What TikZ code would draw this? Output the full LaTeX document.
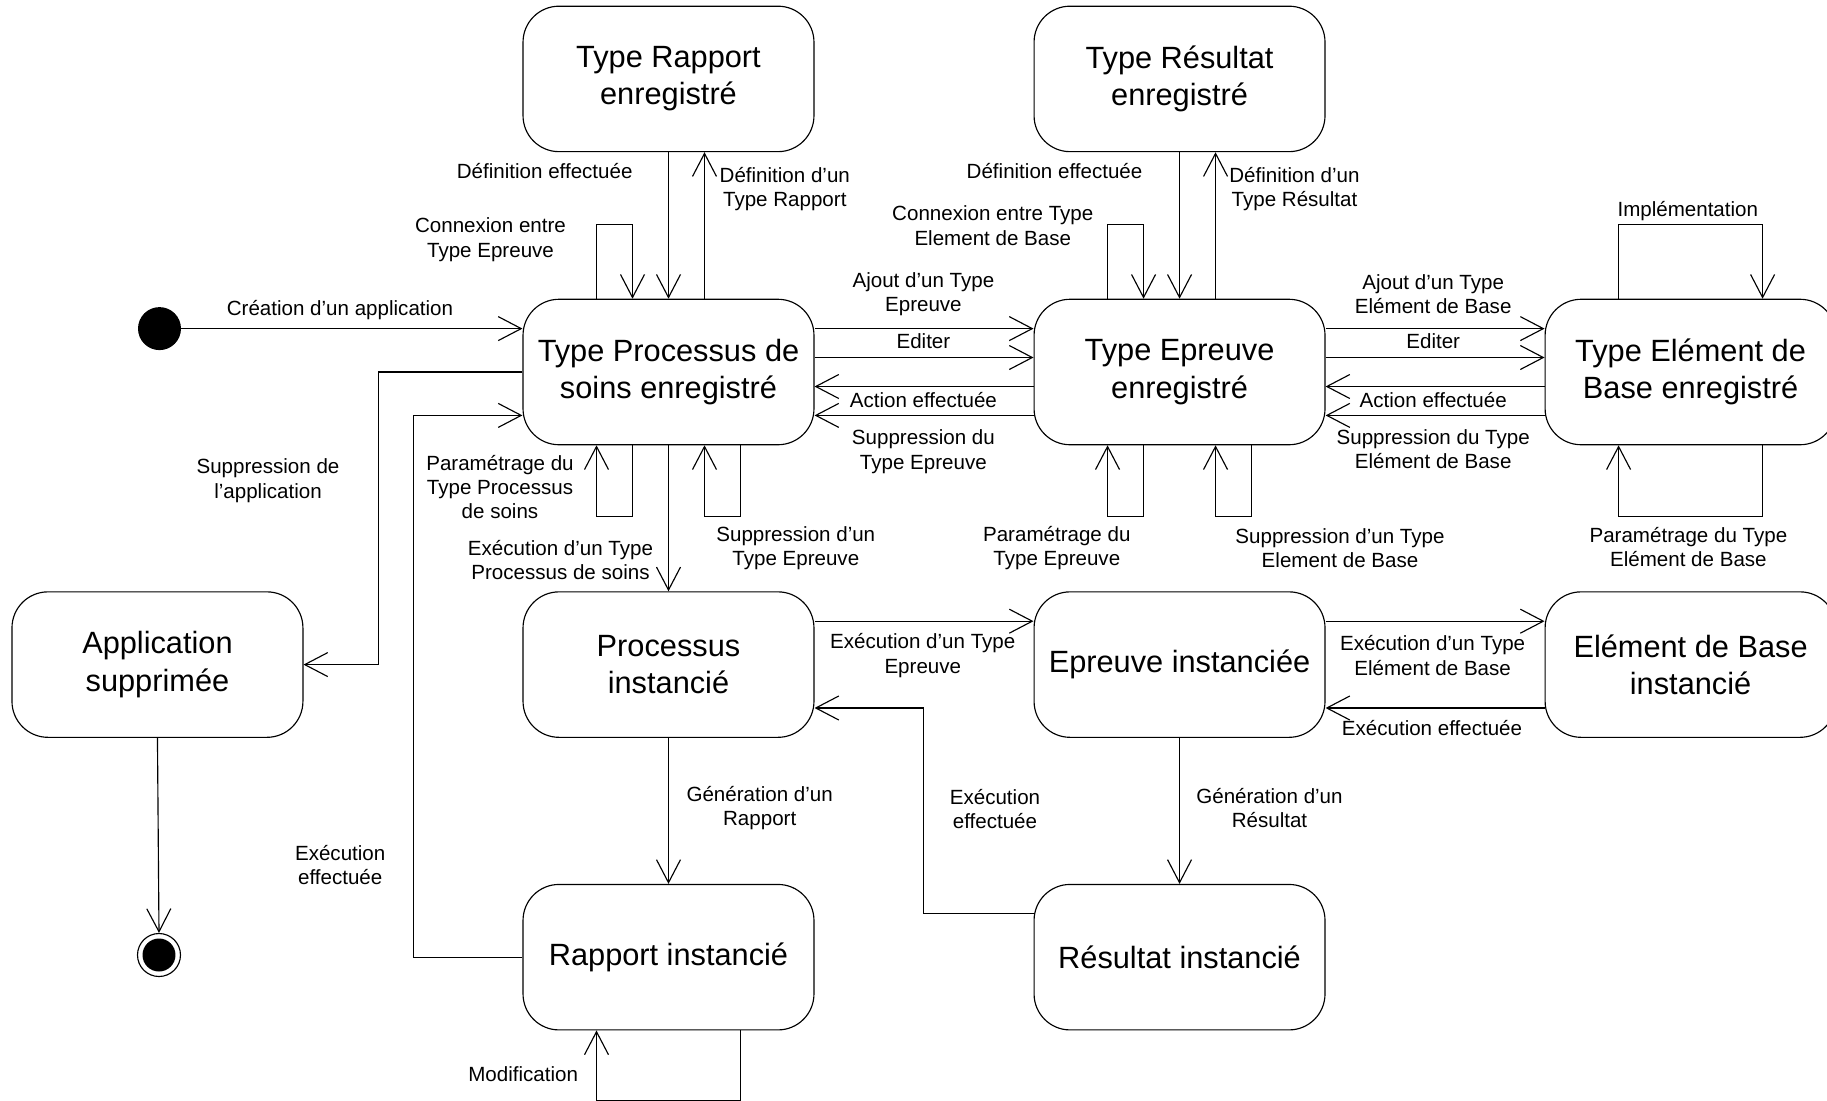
\documentclass[tikz,border=0pt]{standalone}
\usepackage{fontspec}
\setmainfont{Liberation Sans}
\usetikzlibrary{arrows.meta,positioning,calc}

\begin{document}
\begin{tikzpicture}[x=0.02cm,y=-0.02cm,
  state/.style={draw,line width=0.65pt,rounded corners=0.72cm,
    minimum width=5.82cm,minimum height=2.91cm,align=center,
    font=\fontsize{17.5}{21.2}\selectfont},
  lbl/.style={align=center,inner sep=0pt,font=\fontsize{11.7}{13.9}\selectfont},
  arr/.style={-{Straight Barb[length=0.46cm,width=0.48cm]},line width=0.65pt}
]
\useasboundingbox (0,0) rectangle (1827,1100);

\node[state] (tproc) at (668.5,372) {Type Processus de\\soins enregistré};
\node[state,right=4.38cm of tproc] (tepr) {Type Epreuve\\enregistré};
\node[state,right=4.38cm of tepr] (telem) {Type Elément de\\Base enregistré};
\node[state,above=2.93cm of tproc] (trap) {Type Rapport\\enregistré};
\node[state,above=2.93cm of tepr] (tres) {Type Résultat\\enregistré};
\node[state,below=2.92cm of tproc] (procinst) {Processus\\instancié};
\node[state,left=4.38cm of procinst] (appsup) {Application\\supprimée};
\node[state,below=2.92cm of tepr] (eprinst) {Epreuve instanciée};
\node[state,below=2.92cm of telem] (eleminst) {Elément de Base\\instancié};
\node[state,below=2.92cm of procinst] (rapinst) {Rapport instancié};
\node[state,below=2.92cm of eprinst] (resinst) {Résultat instancié};

\node[circle,fill,inner sep=0pt,minimum size=0.86cm] (init) at (159.5,328.6) {};
\node[circle,draw,line width=0.65pt,inner sep=0pt,minimum size=0.86cm] (fin) at (159,955) {};
\node[circle,fill,inner sep=0pt,minimum size=0.66cm] (finin) at (fin) {};

\draw[arr] (init.east) -- (init -| tproc.west);
\draw[arr] (trap.south) -- (tproc.north);
\draw[arr] ($(tproc.north)+(36,0)$) -- ($(trap.south)+(36,0)$);
\draw[arr] ($(tproc.north)+(-72,0)$) -- ++(0,-74) -| ($(tproc.north)+(-36,0)$);
\draw[arr] (tproc.south) -- (procinst.north);
\draw[arr] ($(tproc.south)+(-36,0)$) -- ++(0,71) -| ($(tproc.south)+(-72,0)$);
\draw[arr] ($(tproc.south)+(72,0)$) -- ++(0,71) -| ($(tproc.south)+(36,0)$);
\draw[arr] (tproc.west) -- ++(-144,0) |- (appsup.east);
\draw[arr] (rapinst.west) -- ++(-109,0) |- ($(tproc.west)+(0,43.4)$);

\draw[arr] ($(tproc.east)+(0,-43.4)$) -- ($(tepr.west)+(0,-43.4)$);
\draw[arr] ($(tproc.east)+(0,-14.5)$) -- ($(tepr.west)+(0,-14.5)$);
\draw[arr] ($(tepr.west)+(0,14.5)$) -- ($(tproc.east)+(0,14.5)$);
\draw[arr] ($(tepr.west)+(0,43.4)$) -- ($(tproc.east)+(0,43.4)$);

\draw[arr] (tres.south) -- (tepr.north);
\draw[arr] ($(tepr.north)+(36,0)$) -- ($(tres.south)+(36,0)$);
\draw[arr] ($(tepr.north)+(-72,0)$) -- ++(0,-74) -| ($(tepr.north)+(-36,0)$);
\draw[arr] ($(tepr.south)+(-36,0)$) -- ++(0,71) -| ($(tepr.south)+(-72,0)$);
\draw[arr] ($(tepr.south)+(72,0)$) -- ++(0,71) -| ($(tepr.south)+(36,0)$);

\draw[arr] ($(tepr.east)+(0,-43.4)$) -- ($(telem.west)+(0,-43.4)$);
\draw[arr] ($(tepr.east)+(0,-14.5)$) -- ($(telem.west)+(0,-14.5)$);
\draw[arr] ($(telem.west)+(0,14.5)$) -- ($(tepr.east)+(0,14.5)$);
\draw[arr] ($(telem.west)+(0,43.4)$) -- ($(tepr.east)+(0,43.4)$);
\draw[arr] ($(telem.north)+(-72,0)$) -- ++(0,-74) -| ($(telem.north)+(72,0)$);
\draw[arr] ($(telem.south)+(72,0)$) -- ++(0,71) -| ($(telem.south)+(-72,0)$);

\draw[arr] ($(procinst.east)+(0,-43.4)$) -- ($(eprinst.west)+(0,-43.4)$);
\draw[arr] ($(resinst.west)+(0,-43.4)$) -- ++(-110,0) |- ($(procinst.east)+(0,43.4)$);
\draw[arr] ($(eprinst.east)+(0,-43.4)$) -- ($(eleminst.west)+(0,-43.4)$);
\draw[arr] ($(eleminst.west)+(0,43.4)$) -- ($(eprinst.east)+(0,43.4)$);
\draw[arr] (procinst.south) -- (rapinst.north);
\draw[arr] (eprinst.south) -- (resinst.north);
\draw[arr] ($(rapinst.south)+(72,0)$) -- ++(0,70) -| ($(rapinst.south)+(-72,0)$);
\draw[arr] (appsup.south) -- (fin.north);

\node[lbl] (lcrea) at (340,310) {Création d’un application};
\node[lbl] (ldefr) at (544.7,171.3) {Définition effectuée};
\node[lbl] (ltrap) at (784.8,189.3) {Définition d’un\\Type Rapport};
\node[lbl] (lconp) at (490.5,239.5) {Connexion entre\\Type Epreuve};
\node[lbl] (ldefe) at (1054.5,171.3) {Définition effectuée};
\node[lbl] (ltres) at (1294.5,189.3) {Définition d’un\\Type Résultat};
\node[lbl] (lcone) at (992.8,225.5) {Connexion entre Type\\Element de Base};
\node[lbl] (limpl) at (1687.8,211) {Implémentation};
\node[lbl] (lajep) at (923.4,294.2) {Ajout d’un Type\\Epreuve};
\node[lbl] (ledp) at (923.4,341.4) {Editer};
\node[lbl] (lactp) at (923.4,399.7) {Action effectuée};
\node[lbl] (lsupp) at (923.4,451.5) {Suppression du\\Type Epreuve};
\node[lbl] (lajel) at (1433.2,294.2) {Ajout d’un Type\\Elément de Base};
\node[lbl] (lede) at (1433.2,341.4) {Editer};
\node[lbl] (lacte) at (1433.2,399.7) {Action effectuée};
\node[lbl] (lsupe) at (1433.2,449.2) {Suppression du Type\\Elément de Base};
\node[lbl] (lsupa) at (268,480.6) {Suppression de\\l’application};
\node[lbl] (lparp) at (500,487) {Paramétrage du\\Type Processus\\de soins};
\node[lbl] (lsupte) at (795.8,548.2) {Suppression d’un\\Type Epreuve};
\node[lbl] (lexep) at (560.5,559.9) {Exécution d’un Type\\Processus de soins};
\node[lbl] (lpare) at (1056.8,548.2) {Paramétrage du\\Type Epreuve};
\node[lbl] (lsuptb) at (1340,548.2) {Suppression d’un Type\\Element de Base};
\node[lbl] (lparb) at (1688.4,547) {Paramétrage du Type\\Elément de Base};
\node[lbl] (lexee) at (922.8,655.4) {Exécution d’un Type\\Epreuve};
\node[lbl] (lexeb) at (1432.6,655.4) {Exécution d’un Type\\Elément de Base};
\node[lbl] (leffb) at (1432,728) {Exécution effectuée};
\node[lbl] (leffr) at (995,809.2) {Exécution\\effectuée};
\node[lbl] (lgenr) at (759.7,808) {Génération d’un\\Rapport};
\node[lbl] (lgens) at (1269.5,808) {Génération d’un\\Résultat};
\node[lbl] (leffp) at (340.2,865.2) {Exécution\\effectuée};
\node[lbl] (lmod) at (523.2,1074.3) {Modification};
\end{tikzpicture}
\end{document}
